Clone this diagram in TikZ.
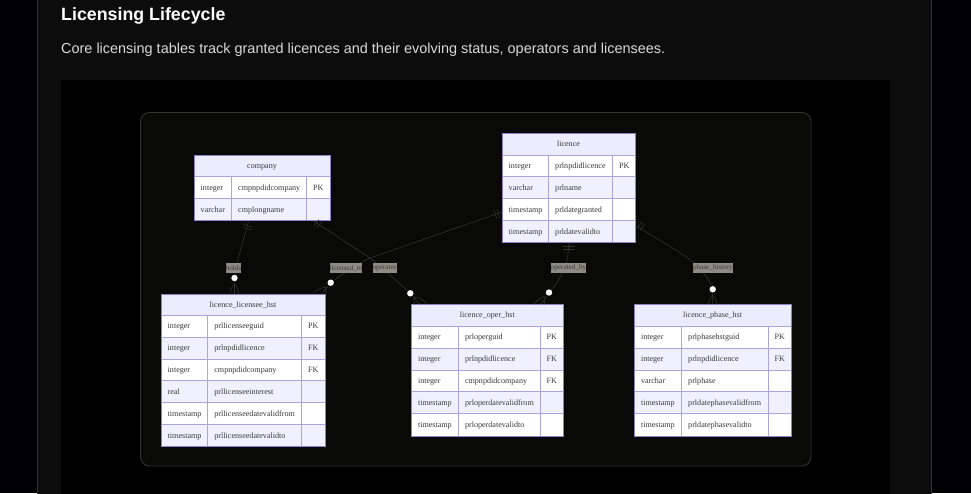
\documentclass[tikz,border=0pt]{standalone}
\usepackage{fontspec}
\setmainfont{Liberation Serif}
\newfontfamily\uifont{Liberation Sans}
\usetikzlibrary{calc}
\definecolor{pagebg}{HTML}{000003}
\definecolor{panelbg}{HTML}{0C0C0C}
\definecolor{panelline}{HTML}{333333}
\definecolor{framebg}{HTML}{090908}
\definecolor{erline}{HTML}{8F80CC}
\definecolor{ergrid}{HTML}{AEA4DC}
\definecolor{rowb}{HTML}{F1F0FF}
\definecolor{headbg}{HTML}{ECECFF}
\definecolor{ertext}{HTML}{3A3A3A}
\definecolor{rel}{HTML}{333333}
\definecolor{lab}{HTML}{8C8C84}
\tikzset{
  x=1pt,y=-1pt,
  tablebox/.style={draw=erline,line width=.9pt,inner sep=0pt,anchor=north west},
  gridline/.style={draw=ergrid,line width=.7pt},
  celltext/.style={font=\fontsize{8.1}{10}\selectfont,text=ertext,inner sep=0pt,anchor=base west},
  headtext/.style={font=\fontsize{8.1}{10}\selectfont,text=ertext,inner sep=0pt,anchor=base},
  rellabel/.style={fill=lab,font=\fontsize{7.2}{9}\selectfont,text=ertext,inner sep=0pt,minimum height=10.5pt,anchor=center},
  relline/.style={draw=rel,line width=.55pt},
  dotmark/.style={circle,fill=white,inner sep=0pt,minimum size=6.4pt},
}
% name, left, top, right, col1, col2, bottom, title, rows
\newcommand{\ertable}[9]{%
  \pgfmathsetmacro{\rh}{(#7-#3)/(1+\numrows)}
  \fill[headbg] (#2,#3) rectangle (#4,#3+\rh);
  \node[headtext] (#1-head) at ({(#2+#4)/2},{#3+\rh/2+2.7}) {#8};
  \foreach \ty/\nm/\ke [count=\i] in {#9}{
    \pgfmathsetmacro{\ya}{#3+\i*\rh}
    \pgfmathsetmacro{\yb}{\ya+\rh}
    \pgfmathparse{int(mod(\i,2))}
    \ifnum\pgfmathresult=1 \fill[white] (#2,\ya) rectangle (#4,\yb);
    \else \fill[rowb] (#2,\ya) rectangle (#4,\yb); \fi
    \draw[gridline] (#2,\ya) -- (#4,\ya);
    \node[celltext] (#1-t\i) at (#2+6.5,{\ya+\rh/2+2.7}) {\ty};
    \node[celltext] (#1-n\i) at (#5+6.5,{\ya+\rh/2+2.7}) {\nm};
    \node[celltext] (#1-k\i) at (#6+6.5,{\ya+\rh/2+2.7}) {\ke};
  }
  \draw[gridline] (#5,#3+\rh) -- (#5,#7) (#6,#3+\rh) -- (#6,#7);
  \node[tablebox,minimum width={(#4-#2)*1pt},minimum height={(#7-#3)*1pt}] (#1) at (#2,#3) {};
}
\begin{document}
\begin{tikzpicture}
\useasboundingbox (0,0) rectangle (971,493);
\fill[pagebg] (0,0) rectangle (971,493);
\fill[panelbg] (37,-2) rectangle (931,495);
\draw[panelline,line width=.8pt] (37,-2) -- (37,495) (931,-2) -- (931,495);
\fill[black] (61,80) rectangle (890,495);
\draw[panelline,fill=framebg,line width=.8pt,rounded corners=9pt] (140.5,112.5) rectangle (811,466);

\node[font=\uifont\bfseries\fontsize{17.8}{22}\selectfont,text=white,inner sep=0pt,anchor=base west] (heading) at (61,20) {Licensing Lifecycle};
\node[font=\uifont\fontsize{14.45}{18}\selectfont,text=white!85!black,inner sep=0pt,anchor=base west] (subhead) at (61,53) {Core licensing tables track granted licences and their evolving status, operators and licensees.};

\def\numrows{2}
\ertable{company}{194}{155}{330}{231.5}{306.5}{220.3}{company}{integer/cmpnpdidcompany/PK,varchar/cmplongname/{}}
\def\numrows{4}
\ertable{licence}{502}{133}{635}{548.5}{612.5}{242.3}{licence}{integer/prlnpdidlicence/PK,varchar/prlname/{},timestamp/prldategranted/{},timestamp/prldatevalidto/{}}
\def\numrows{6}
\ertable{lee}{161}{293.5}{325}{207.7}{301.3}{446.3}{licence\_licensee\_hst}{integer/prllicenseeguid/PK,integer/prlnpdidlicence/FK,integer/cmpnpdidcompany/FK,real/prllicenseeinterest/{},timestamp/prllicenseedatevalidfrom/{},timestamp/prllicenseedatevalidto/{}}
\def\numrows{5}
\ertable{oper}{411.3}{304.2}{563.3}{458.3}{540}{435.5}{licence\_oper\_hst}{integer/prloperguid/PK,integer/prlnpdidlicence/FK,integer/cmpnpdidcompany/FK,timestamp/prloperdatevalidfrom/{},timestamp/prloperdatevalidto/{}}
\ertable{phase}{634.3}{304.2}{791}{681.5}{768}{435.5}{licence\_phase\_hst}{integer/prlphasehstguid/PK,integer/prlnpdidlicence/FK,varchar/prlphase/{},timestamp/prldatephasevalidfrom/{},timestamp/prldatephasevalidto/{}}

% anchors on the tables
\coordinate (holdsA) at ($(company.south west)+(54.5,0)$);
\coordinate (toA) at ($(licence.north west)+(0,79)$);
\coordinate (opsA) at ($(company.south west)+(120,0)$);
\coordinate (byA) at ($(licence.south west)+(67,0)$);
\coordinate (phA) at ($(licence.south east)+(0,-17)$);

% labels and dots
\node[dotmark] (d1) at (234.5,278) {};
\node[dotmark] (d2) at (330.7,282.7) {};
\node[dotmark] (d3) at (410.3,293.3) {};
\node[dotmark] (d4) at (549,292.5) {};
\node[dotmark] (d5) at (712.7,289.3) {};

% connectors
\draw[relline] (holdsA) -- (237,263) -- (d1);
\draw[relline] (toA) -- (370,258) .. controls (355,265) and (343,274) .. (d2);
\draw[relline] (opsA) -- (370,258) .. controls (385,270) and (400,284) .. (d3);
\draw[relline] (byA) -- (568,253) .. controls (568,264) and (560,280) .. (d4);
\draw[relline] (phA) .. controls (660,240) and (680,252) .. (693,262) .. controls (703,270) and (709,280) .. (d5);

% one-bars
\draw[relline] (243.5,224.5) -- (252.5,227) (243,227.5) -- (251.5,230);
\draw[relline] (497,209) -- (500,218) (494,210) -- (497,219);
\draw[relline] (314,226) -- (319,219.5) (317,228) -- (322,221.5);
\draw[relline] (563,246) -- (575,246) (563,249) -- (575,249);
\draw[relline] (637,228.5) -- (642,221.5) (640,230.5) -- (645,223.5);

% crow's feet
\draw[relline] (d1) -- (234.5,293.5) (d1) ++(0,6) .. controls (232,285) and (231,290) .. (230,293.5) (d1) ++(0,6) .. controls (237,285) and (238,290) .. (239,293.5);
\draw[relline] (d2) -- (322,293.5) (326,287) .. controls (320,288) and (316,290) .. (313,293.5) (326,287) .. controls (326,289) and (326,291) .. (326,293.5);
\draw[relline] (d3) -- (420,304.2) (414,297) .. controls (414,299) and (414,302) .. (415,304.2) (414,297) .. controls (419,297) and (424,300) .. (427,304.2);
\draw[relline] (d4) -- (541,304.2) (544,296.5) .. controls (540,298) and (536,301) .. (534,304.2) (544,296.5) .. controls (544,299) and (544,302) .. (545,304.2);
\draw[relline] (d5) -- (712.7,304.2) (712.7,295) .. controls (710,297) and (709,301) .. (708.5,304.2) (712.7,295) .. controls (715,297) and (716.5,301) .. (717,304.2);

\node[rellabel,minimum width=15pt] (holds) at (233.5,268) {holds};
\node[rellabel,minimum width=32pt] (licto) at (346,268) {licensed\_to};
\node[rellabel,minimum width=24pt] (operates) at (384.5,268) {operates};
\node[rellabel,minimum width=35pt] (opby) at (568.5,268) {operated\_by};
\node[rellabel,minimum width=40pt] (phist) at (713,268) {phase\_history};
\end{tikzpicture}
\end{document}
